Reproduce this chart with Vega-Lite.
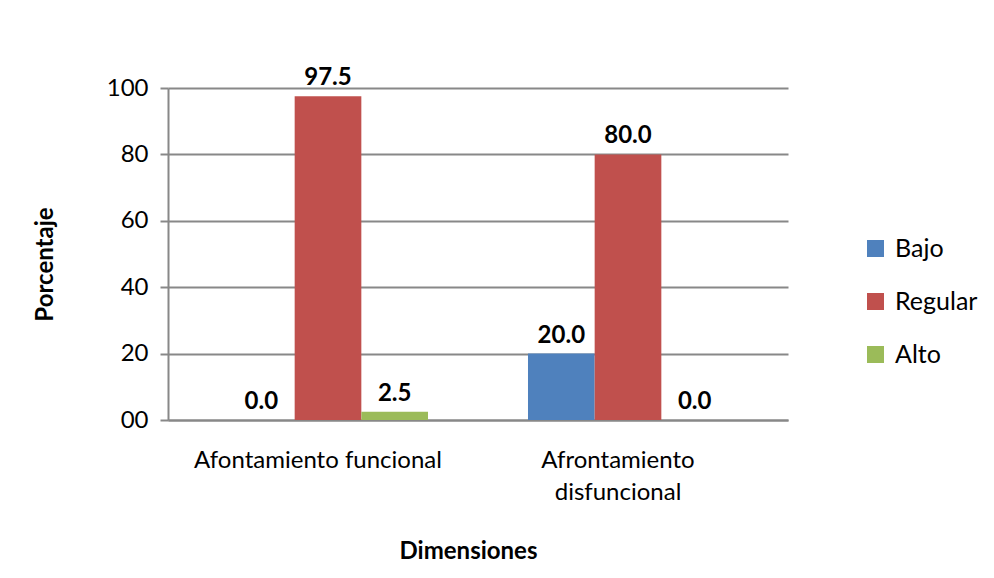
{
  "$schema": "https://vega.github.io/schema/vega-lite/v6.json",
  "width": 620,
  "height": 332,
  "autosize": {"type": "none"},
  "padding": {"left": 168, "top": 88, "right": 206, "bottom": 158},
  "background": "white",
  "config": {
    "view": {"stroke": null},
    "font": "Lato"
  },
  "data": {
    "values": [
      {"dimension": "Afontamiento funcional", "nivel": "Bajo", "porcentaje": 0.0},
      {"dimension": "Afontamiento funcional", "nivel": "Regular", "porcentaje": 97.5},
      {"dimension": "Afontamiento funcional", "nivel": "Alto", "porcentaje": 2.5},
      {"dimension": "Afrontamiento disfuncional", "nivel": "Bajo", "porcentaje": 20.0},
      {"dimension": "Afrontamiento disfuncional", "nivel": "Regular", "porcentaje": 80.0},
      {"dimension": "Afrontamiento disfuncional", "nivel": "Alto", "porcentaje": 0.0}
    ]
  },
  "encoding": {
    "x": {
      "field": "dimension",
      "type": "nominal",
      "sort": ["Afontamiento funcional", "Afrontamiento disfuncional"],
      "scale": {"paddingInner": 0.3333, "paddingOuter": 0.2},
      "axis": {
        "title": "Dimensiones",
        "titleFontSize": 24,
        "titleFontWeight": "bold",
        "titleColor": "black",
        "titleX": 300,
        "titleY": 131,
        "titleAlign": "center",
        "titleBaseline": "middle",
        "labelAngle": 0,
        "labelFontSize": 24,
        "labelColor": "black",
        "labelLimit": 0,
        "labelOffset": -10,
        "labelPadding": 28,
        "labelLineHeight": 32,
        "labelBaseline": "top",
        "labelExpr": "datum.value == 'Afrontamiento disfuncional' ? ['Afrontamiento', 'disfuncional'] : datum.label",
        "ticks": false,
        "domainColor": "#888888",
        "domainWidth": 2
      }
    },
    "xOffset": {
      "field": "nivel",
      "sort": ["Bajo", "Regular", "Alto"],
      "scale": {"paddingInner": 0, "paddingOuter": 0}
    },
    "y": {
      "field": "porcentaje",
      "type": "quantitative",
      "scale": {"domain": [0, 100]},
      "axis": {
        "values": [0, 20, 40, 60, 80, 100],
        "labelExpr": "datum.value == 0 ? '00' : datum.label",
        "labelFontSize": 24,
        "labelColor": "black",
        "labelPadding": 12,
        "tickSize": 8,
        "tickColor": "#888888",
        "tickWidth": 2,
        "domainColor": "#888888",
        "domainWidth": 2,
        "gridColor": "#888888",
        "gridWidth": 2,
        "title": "Porcentaje",
        "titleFontSize": 24,
        "titleFontWeight": "bold",
        "titleColor": "black",
        "titleX": -123,
        "titleY": 176,
        "titleAlign": "center",
        "titleBaseline": "middle"
      }
    }
  },
  "layer": [
    {
      "mark": {"type": "bar"},
      "encoding": {
        "color": {
          "field": "nivel",
          "type": "nominal",
          "sort": ["Bajo", "Regular", "Alto"],
          "scale": {"domain": ["Bajo", "Regular", "Alto"], "range": ["#4F81BD", "#C0504D", "#9BBB59"]},
          "legend": {
            "title": null,
            "orient": "none",
            "legendX": 695,
            "legendY": 148,
            "symbolType": "square",
            "symbolSize": 289,
            "symbolStrokeWidth": 0,
            "symbolOpacity": 1,
            "labelFontSize": 25,
            "labelColor": "black",
            "labelOffset": 7,
            "rowPadding": 27
          }
        }
      }
    },
    {
      "mark": {"type": "text", "fontSize": 24, "fontWeight": "bold", "baseline": "bottom", "dy": -6, "color": "black"},
      "encoding": {
        "text": {"field": "porcentaje", "type": "quantitative", "format": ".1f"}
      }
    }
  ]
}
